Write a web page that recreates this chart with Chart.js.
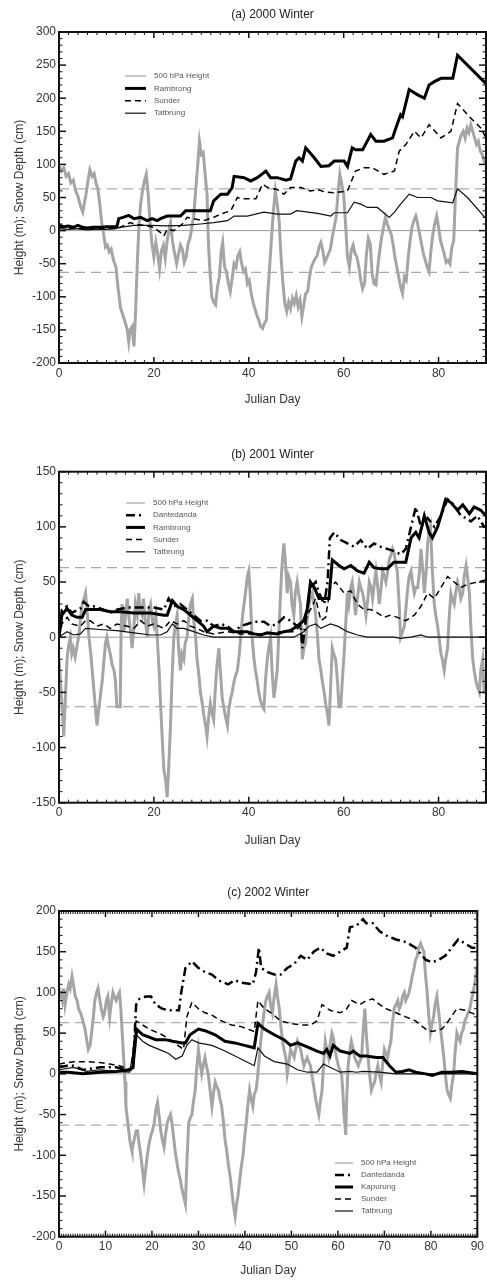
<!DOCTYPE html>
<html>
<head>
<meta charset="utf-8">
<script src="https://cdn.jsdelivr.net/npm/chart.js@4.4.1/dist/chart.umd.min.js"></script>
<style>
body { margin: 0; background: #fff; }
#contenedor { position: relative; width: 487px; height: 1281px; overflow: hidden; }
canvas { position: absolute; left: 0; }
</style>
</head>
<body>
<div id="contenedor">
    <canvas id="panel_a" width="487" height="418" style="top:0px"></canvas>
    <canvas id="panel_b" width="487" height="430" style="top:420px"></canvas>
    <canvas id="panel_c" width="487" height="431" style="top:850px"></canvas>
</div>
<script>
// ---- datos: [dia juliano, valor] ----

const dias_rango = [0, 90]
const umbrales = [63, -63]
const rango_y_a = [-200, 300]
const rango_y_b = [-150, 150]
const rango_y_c = [-200, 200]

// (a) 2000
const altura_a = [[0,98],[0.5,90],[1,95],[1.5,82],[2,86],[2.5,72],[3,76],[3.5,60],[4,52],[4.5,38],[5,28],[5.3,40],[5.7,55],[6,70],[6.5,92],[7,82],[7.4,86],[7.8,72],[8.2,62],[8.6,40],[9,12],[9.4,-5],[9.8,-25],[10.2,-22],[10.6,-32],[11,-28],[11.5,-45],[12,-55],[12.5,-90],[13,-118],[13.5,-128],[14,-140],[14.4,-150],[14.7,-168],[15,-150],[15.4,-145],[15.8,-175],[16.1,-130],[16.5,-50],[16.8,0],[17.2,40],[17.6,60],[18,75],[18.4,85],[18.8,55],[19.2,10],[19.6,-20],[20,-40],[20.4,-18],[20.8,-35],[21.2,-58],[21.6,-30],[22,-22],[22.4,-42],[22.8,-15],[23.2,2],[23.5,12],[23.9,-15],[24.3,-32],[24.8,-50],[25.2,-35],[25.6,-22],[26,-28],[26.4,-48],[26.8,-40],[27.2,-20],[27.6,-12],[28,5],[28.4,22],[28.8,60],[29.2,95],[29.6,135],[30,115],[30.4,118],[30.8,85],[31.2,55],[31.5,-20],[31.8,-60],[32.2,-100],[32.6,-108],[33,-112],[33.4,-85],[33.8,-70],[34.2,-30],[34.5,-18],[34.9,-55],[35.3,-62],[35.7,-80],[36.1,-92],[36.5,-72],[36.9,-50],[37.3,-55],[37.7,-38],[38.1,-32],[38.5,-50],[38.9,-62],[39.3,-58],[39.7,-80],[40.1,-75],[40.5,-95],[40.9,-108],[41.3,-118],[41.7,-128],[42.1,-135],[42.5,-145],[42.9,-148],[43.3,-140],[43.7,-135],[44,-95],[44.4,-55],[44.8,-10],[45.2,30],[45.6,60],[46,40],[46.4,15],[46.8,-40],[47.2,-80],[47.6,-110],[48,-122],[48.4,-108],[48.8,-118],[49.2,-102],[49.6,-110],[50,-98],[50.4,-115],[50.8,-105],[51.2,-130],[51.6,-112],[52,-95],[52.4,-92],[52.8,-70],[53.2,-55],[53.6,-48],[54,-42],[54.4,-38],[54.8,-25],[55.2,-18],[55.6,-30],[56,-48],[56.4,-42],[56.8,-35],[57.2,-28],[57.6,-10],[58,5],[58.4,20],[58.8,55],[59.2,85],[59.6,70],[60,55],[60.4,10],[60.8,-40],[61.2,-55],[61.6,-30],[62,-22],[62.4,-35],[62.8,-40],[63.2,-55],[63.6,-75],[64,-88],[64.4,-80],[64.8,-35],[65.2,-12],[65.6,-20],[66,-65],[66.4,-80],[66.8,-82],[67.2,-55],[67.6,-30],[68,-10],[68.4,5],[68.8,20],[69.2,10],[69.6,2],[70,-5],[70.4,-20],[70.8,-40],[71.2,-55],[71.6,-70],[72,-85],[72.4,-95],[72.8,-70],[73.2,-75],[73.6,-40],[74,-15],[74.4,5],[74.8,15],[75.2,22],[75.6,10],[76,-5],[76.4,-20],[76.8,-35],[77.2,-45],[77.6,-55],[78,-62],[78.4,-30],[78.8,-5],[79.2,10],[79.6,22],[80,5],[80.4,-15],[80.8,-25],[81.2,-35],[81.6,-48],[82,-45],[82.4,-50],[82.8,-25],[83.2,-15],[83.6,60],[84,125],[84.4,135],[84.8,145],[85.2,150],[85.6,140],[86,155],[86.4,148],[86.8,160],[87.2,150],[87.6,140],[88,130],[88.4,135],[88.8,120],[89.2,115],[89.6,105],[90,100]]
const rambrong_a = [[0,8],[1,6],[2,7],[3,5],[4,8],[5,5],[6,4],[7,5],[8,5],[9,5],[10,6],[11,6],[12.2,6],[12.6,18],[13.5,20],[14.7,23],[15.8,18],[17.2,20],[18.6,15],[19.6,18],[20.7,15],[21.4,18],[22.8,22],[25.6,22],[26.7,30],[28.4,30],[31.9,30],[32.6,45],[34.1,55],[35.5,55],[36.5,65],[36.9,82],[39,80],[40.4,75],[41.8,80],[43.6,90],[44.6,80],[46,80],[47.8,76],[48.8,78],[49.9,105],[50.6,110],[51.3,105],[52,125],[53.8,110],[55.2,97],[56.9,98],[58,105],[60.1,105],[60.8,97],[61.8,125],[62.5,122],[64,122],[65.7,145],[66.8,135],[68.5,135],[70.3,140],[71,155],[72,175],[72.4,172],[73.8,213],[75.6,205],[77,200],[78,220],[79.1,225],[80.5,230],[83,230],[84,265],[90,222]]
const sunder_a = [[0,5],[2,4],[4,3],[6,2],[8,3],[10,3],[12,3],[12.9,5],[15,12],[15.8,10],[17.9,8],[20,5],[21.4,-3],[22.1,-8],[22.8,2],[24.2,0],[26,10],[27,20],[28.4,18],[30.5,15],[32.6,20],[34.1,25],[36.2,30],[37.6,50],[38.6,48],[39.7,48],[41.5,48],[42.9,70],[44,65],[46,62],[47.4,55],[48.8,65],[51,65],[53,60],[54.5,62],[56.2,58],[58,57],[60.8,60],[62.5,90],[64.3,95],[66,95],[68.5,85],[70.7,90],[71.7,120],[73.1,130],[74.9,150],[76.3,140],[78,160],[80.5,140],[82.6,150],[84,192],[86.1,175],[88.9,155],[90,140]]
const tatbrung_a = [[0,3],[2,2],[4,3],[6,1],[8,2],[10,2],[12,3],[12.9,5],[15.8,8],[19.3,8],[22.8,7],[26.3,8],[29.8,10],[32.6,12],[35.5,15],[36.9,22],[39.7,22],[43.2,28],[46,25],[48.8,25],[50.1,30],[54.5,26],[57.3,22],[58,27],[60.8,27],[62.2,43],[63.6,40],[65,35],[67.1,35],[69.6,20],[70.7,28],[72,40],[73.8,55],[75.6,50],[78.4,50],[79.8,45],[83,42],[84,63],[86.1,50],[90,18]]

// (b) 2001
const altura_b = [[0,-20],[0.4,-45],[0.8,-75],[1,-90],[1.3,-60],[1.7,-20],[2,-8],[2.4,0],[2.7,-15],[3,-10],[3.4,-18],[3.8,-8],[4.2,2],[4.6,20],[4.9,30],[5.3,35],[5.6,40],[6,20],[6.3,0],[6.7,-15],[7,-30],[7.4,-50],[7.7,-65],[8,-80],[8.4,-65],[8.8,-50],[9.1,-40],[9.5,-20],[9.8,-5],[10.1,0],[10.5,-10],[10.8,-15],[11.2,-25],[11.6,-30],[11.9,-40],[12.2,-63],[12.9,-63],[13.1,10],[13.3,30],[13.7,5],[14,20],[14.4,35],[14.8,15],[15.1,5],[15.4,-10],[15.8,10],[16.1,30],[16.5,20],[16.8,40],[17.1,25],[17.5,20],[17.8,35],[18.2,15],[18.6,0],[19,25],[19.3,30],[19.7,15],[20,10],[20.4,20],[20.7,0],[21.1,-30],[21.4,-60],[21.8,-95],[22.1,-120],[22.5,-130],[22.8,-145],[23.1,-120],[23.5,-80],[23.8,-40],[24.2,0],[24.5,10],[24.9,20],[25.2,-10],[25.6,-30],[25.9,-15],[26.3,-20],[26.6,-5],[27,0],[27.4,20],[27.7,30],[28.1,35],[28.4,15],[28.8,0],[29.1,-20],[29.5,-35],[29.8,-50],[30.2,-60],[30.5,-70],[30.9,-80],[31.2,-90],[31.6,-70],[31.9,-60],[32.2,-68],[32.6,-75],[32.9,-50],[33.3,-25],[33.7,-10],[34,-30],[34.4,-55],[34.8,-65],[35.1,-72],[35.5,-80],[35.8,-65],[36.2,-55],[36.5,-50],[36.9,-40],[37.2,-35],[37.6,-30],[38,-15],[38.3,0],[38.7,20],[39,30],[39.3,40],[39.7,55],[40,60],[40.3,40],[40.7,0],[41.1,-20],[41.4,-30],[41.8,-40],[42.1,-50],[42.5,-58],[42.8,-62],[43.2,-65],[43.5,-40],[43.9,-20],[44.2,-10],[44.6,0],[44.9,-30],[45.3,-55],[45.6,-45],[46,-30],[46.3,0],[46.7,40],[47,65],[47.4,85],[47.7,70],[48.1,40],[48.4,55],[48.8,50],[49.1,30],[49.5,20],[49.8,40],[50.2,50],[50.5,40],[50.9,30],[51.3,-20],[51.6,-10],[52,-5],[52.3,15],[52.7,30],[53,35],[53.4,40],[53.8,30],[54.1,20],[54.5,0],[54.8,-20],[55.2,-30],[55.5,-40],[55.9,-50],[56.2,-60],[56.6,-70],[56.9,-80],[57.2,-50],[57.6,-10],[57.9,-15],[58.3,-20],[58.7,-40],[59,-63],[59.4,-63],[59.7,-40],[60.1,-15],[60.4,10],[60.8,40],[61.1,30],[61.5,45],[61.8,50],[62.2,35],[62.5,20],[62.9,35],[63.3,50],[63.6,45],[64,40],[64.4,30],[64.7,20],[65.1,35],[65.4,50],[65.8,45],[66.1,35],[66.5,50],[66.8,60],[67.2,45],[67.5,30],[67.9,45],[68.2,60],[68.6,55],[68.9,50],[69.3,60],[69.6,70],[70,75],[70.3,80],[70.7,75],[71,65],[71.3,60],[71.7,30],[72,0],[72.4,5],[72.8,10],[73.1,25],[73.5,45],[73.8,55],[74.2,60],[74.5,50],[74.9,40],[75.2,45],[75.6,45],[76,60],[76.3,80],[76.7,60],[77,40],[77.4,60],[77.7,85],[78,95],[78.3,100],[78.7,60],[79.1,30],[79.4,20],[79.8,10],[80.1,0],[80.5,-15],[80.8,-20],[81.2,-30],[81.5,-20],[81.9,-10],[82.2,15],[82.6,40],[82.9,35],[83.3,30],[83.6,40],[84,50],[84.3,45],[84.7,35],[85.1,40],[85.4,55],[85.8,65],[86.1,55],[86.5,40],[86.8,10],[87.2,-20],[87.5,-30],[87.9,-40],[88.2,-45],[88.6,-50],[88.9,-30],[89.3,-20],[89.6,-50],[90,-50]]
const dantedanda_b = [[0,0],[0.6,25],[1.7,28],[2.7,22],[4.5,26],[5.2,32],[6.3,28],[7.3,28],[9.4,25],[10.8,22],[12.2,25],[14.4,27],[17.2,27],[20,27],[22.1,25],[23.1,35],[24.2,28],[25.6,30],[27,25],[28.4,20],[29.8,15],[31.2,15],[32.6,10],[34.1,12],[35.5,10],[36.9,5],[38.3,10],[39.7,12],[41.1,14],[43.2,14],[44.6,10],[46,12],[47.4,18],[48.8,15],[50.2,10],[50.9,12],[51.3,-10],[52,15],[53,45],[54.1,50],[54.8,40],[55.9,30],[56.6,50],[57.1,90],[58,95],[59.4,88],[60.8,85],[62.2,82],[63.6,88],[65,80],[66.4,85],[67.8,82],[69.2,80],[70.6,78],[72,75],[73.1,80],[74.2,100],[75.2,118],[76.3,100],[77.7,108],[79.1,100],[80.5,110],[81.9,125],[83.3,120],[84.7,110],[85.8,108],[86.8,105],[88.2,110],[89.6,100],[90,100]]
const rambrong_b = [[0,0],[0.6,20],[1.7,26],[2.7,20],[3.8,18],[4.9,18],[5.6,25],[6.6,25],[8.7,25],[10.8,23],[13,23],[15.8,22],[19.3,22],[22.1,20],[22.8,20],[23.9,33],[24.9,28],[26.3,25],[27.7,20],[29.1,15],[30.5,10],[31.2,5],[32.6,10],[34.1,8],[35.5,8],[36.9,5],[38.3,5],[39.7,5],[41.1,3],[42.5,2],[43.9,4],[46,3],[47.4,5],[48.8,6],[50.2,10],[51.6,15],[52.3,25],[53,50],[53.8,45],[54.8,35],[55.9,35],[56.9,35],[57.6,70],[59,65],[60.1,62],[61.5,65],[62.9,60],[64.3,58],[65.4,68],[66.4,63],[67.8,62],[69.2,62],[70.6,68],[73.1,68],[74.2,90],[75.2,95],[75.9,90],[77,110],[78,95],[78.7,90],[79.8,100],[80.5,110],[81.5,125],[82.6,122],[84,115],[85.1,120],[86.5,112],[87.5,118],[88.9,115],[90,110]]
const sunder_b = [[0,0],[0.6,12],[1.7,18],[2.7,12],[4.5,10],[5.6,15],[6.6,15],[8,10],[9.4,12],[10.8,8],[12.2,12],[14.4,10],[15.8,8],[17.2,15],[18.6,10],[20,12],[22.1,8],[23.5,15],[24.9,12],[26.3,15],[27.7,10],[29.1,8],[30.5,5],[32.6,3],[35.5,5],[38.3,3],[41.1,3],[43.9,3],[46.7,5],[49.5,5],[50.9,10],[53,25],[54.1,35],[55.2,15],[56.2,18],[57.2,45],[58.3,50],[60.1,40],[61.5,42],[62.9,30],[64.3,25],[65.7,25],[67.1,22],[68.5,18],[69.9,20],[71.3,18],[73.1,15],[74.9,20],[76.3,28],[77.7,40],[79.1,35],[80.5,45],[81.9,55],[83.3,50],[84.7,45],[86.1,48],[88.2,50],[90,52]]
const tatbrung_b = [[0,0],[0.6,2],[1.7,5],[3.1,2],[4.5,3],[5.6,8],[8.7,7],[12.2,6],[15.8,4],[19.3,2],[21.4,2],[22.8,5],[23.9,12],[24.9,8],[26.3,8],[28.4,5],[30.5,2],[32.6,0],[36.9,0],[43.9,0],[49.5,0],[51.6,5],[52.7,10],[54.1,12],[55.2,8],[57.2,12],[58.7,10],[60.8,5],[62.9,2],[65,0],[68.5,0],[70.6,0],[72,-1],[74.2,0],[76.3,2],[77.7,0],[90,0]]

// (c) 2002
const altura_c = [[0,95],[0.3,100],[0.7,90],[1,105],[1.3,85],[1.7,100],[2.1,110],[2.4,105],[2.8,120],[3.1,110],[3.5,95],[3.9,90],[4.2,80],[4.6,75],[4.9,70],[5.3,62],[5.6,55],[6,40],[6.3,30],[6.7,35],[7,50],[7.4,70],[7.7,90],[8.1,100],[8.4,105],[8.8,90],[9.1,80],[9.5,70],[9.8,75],[10.2,90],[10.5,95],[10.9,70],[11.2,85],[11.6,100],[11.9,95],[12.3,90],[12.6,95],[13,100],[13.3,80],[13.6,50],[13.9,20],[14.2,-10],[14.4,-40],[14.8,-60],[15.2,-80],[15.5,-90],[15.7,-95],[16,-85],[16.2,-80],[16.6,-70],[16.9,-70],[17.2,-85],[17.6,-100],[17.9,-115],[18.3,-135],[18.6,-120],[19,-100],[19.4,-85],[19.8,-75],[20.1,-70],[20.5,-60],[20.8,-45],[21.2,-35],[21.5,-50],[21.9,-70],[22.2,-80],[22.6,-90],[22.9,-75],[23.3,-60],[23.6,-55],[24,-50],[24.3,-60],[24.7,-80],[25,-95],[25.4,-110],[25.7,-120],[26.1,-130],[26.4,-140],[26.8,-150],[27.2,-160],[27.5,-110],[27.9,-60],[28.2,-55],[28.6,-50],[28.9,-35],[29.3,-20],[29.6,5],[30,30],[30.3,15],[30.7,0],[31,10],[31.4,20],[31.7,10],[32.1,0],[32.5,-20],[32.9,-40],[33.2,-25],[33.6,-10],[33.9,-15],[34.3,-20],[34.6,-30],[35,-40],[35.4,-60],[35.7,-80],[36.1,-95],[36.4,-110],[36.8,-125],[37.1,-140],[37.5,-160],[37.9,-175],[38.2,-160],[38.5,-150],[38.9,-130],[39.2,-115],[39.6,-100],[39.9,-80],[40.3,-60],[40.6,-40],[41,-20],[41.3,-30],[41.7,-40],[42,-25],[42.4,-20],[42.7,-5],[43.1,20],[43.4,40],[43.8,60],[44.1,75],[44.5,90],[44.8,95],[45.2,100],[45.5,85],[45.9,75],[46.3,95],[46.7,110],[47,95],[47.4,80],[47.7,60],[48.1,40],[48.4,30],[48.8,20],[49.1,0],[49.5,15],[49.8,30],[50.2,25],[50.6,20],[50.9,30],[51.3,40],[51.6,35],[52,30],[52.3,20],[52.7,10],[53,15],[53.4,20],[53.7,15],[54.1,10],[54.5,-5],[54.8,-15],[55.2,-30],[55.5,-40],[55.9,-50],[56.2,-35],[56.6,-20],[56.9,10],[57.3,40],[57.6,30],[58,20],[58.3,35],[58.7,50],[59,45],[59.4,30],[59.7,20],[60.1,10],[60.4,5],[60.8,0],[61.1,-25],[61.3,-50],[61.7,-75],[61.9,-30],[62.2,10],[62.6,30],[62.9,40],[63.3,30],[63.6,20],[64,15],[64.4,10],[64.7,15],[65.1,20],[65.4,50],[65.8,80],[66.1,50],[66.5,20],[66.8,0],[67.2,-20],[67.5,-15],[67.9,-10],[68.2,0],[68.6,10],[68.9,0],[69.3,-10],[69.6,10],[70,30],[70.3,25],[70.7,20],[71,30],[71.4,40],[71.7,60],[72.1,80],[72.5,85],[72.9,90],[73.2,80],[73.6,85],[73.9,95],[74.3,100],[74.6,90],[75,95],[75.3,100],[75.7,110],[76,120],[76.4,130],[76.7,140],[77.1,145],[77.4,155],[77.8,160],[78.1,155],[78.5,150],[78.8,125],[79.2,100],[79.5,75],[79.9,50],[80.2,60],[80.6,70],[80.9,85],[81.3,95],[81.6,80],[82,60],[82.4,40],[82.8,20],[83.1,0],[83.5,-20],[83.8,-25],[84.2,-30],[84.5,-15],[84.9,0],[85.2,25],[85.6,50],[85.9,45],[86.3,40],[86.6,50],[87,55],[87.3,65],[87.7,70],[88,75],[88.4,80],[88.7,90],[89.1,100],[89.4,110],[89.8,125],[90,120]]
const dantedanda_c = [[0,8],[1.7,10],[3.1,10],[5.2,5],[8.8,8],[12.3,8],[14.4,5],[15.9,5],[16.6,85],[17.3,92],[18.7,95],[19.8,95],[20.8,85],[22.2,80],[23.6,78],[25.8,78],[26.3,100],[27.2,130],[28.6,138],[30,130],[31.4,125],[32.9,122],[34.3,115],[36.4,110],[37.8,115],[39.2,112],[41.7,110],[42.4,125],[43,155],[43.5,130],[44.9,125],[46.3,122],[47.7,122],[49.1,130],[50.6,135],[52,145],[53.4,140],[54.8,150],[56.2,155],[57.6,148],[59,145],[60.5,150],[61.9,155],[62.6,180],[64,182],[65.4,190],[66.1,185],[67.5,185],[69,175],[70.4,170],[72.5,165],[74.6,162],[76.7,155],[78.9,140],[80.3,137],[81.7,140],[83.1,145],[84.5,155],[85.9,165],[87.4,160],[88.8,155],[90,155]]
const kapurung_c = [[0,2],[2,2],[5.2,0],[8.8,2],[12.3,3],[15.2,5],[15.9,8],[16.7,55],[18,48],[19.4,45],[20.8,42],[22.9,42],[24.4,40],[26.5,38],[27.2,38],[28.2,48],[30,55],[31.4,53],[33.6,48],[35.7,40],[37.8,38],[39.9,35],[42,32],[42.8,62],[44.2,55],[46.3,48],[48.4,42],[49.8,35],[51.3,38],[53.4,33],[55.5,28],[56.9,25],[57.6,30],[58.3,22],[59,35],[60.5,28],[62.6,25],[63.3,28],[64.7,22],[66.1,22],[68.3,20],[69.7,20],[71.1,10],[72.5,2],[73.9,3],[75.3,5],[76.7,2],[78.9,0],[80.3,-2],[82.4,2],[84.5,2],[86.7,3],[90,0]]
const sunder_c = [[0,12],[3.1,15],[5.9,15],[8.8,14],[10.9,12],[13,10],[15.5,5],[16.6,65],[18,60],[19.4,55],[22.2,48],[24.4,40],[26.8,30],[27.5,70],[28.6,88],[30,80],[31.4,75],[32.9,72],[35,65],[37.1,60],[39.2,58],[42,52],[42.8,90],[44.2,80],[45.6,75],[47.7,65],[49.8,62],[52,60],[54.1,60],[55.5,65],[56.6,85],[58.3,78],[60.5,75],[61.9,80],[63,90],[64.7,85],[66.1,90],[67.5,92],[69,85],[70.4,80],[72.5,75],[74.6,70],[76.7,65],[78.9,55],[80.3,52],[82.4,55],[83.8,65],[85.6,80],[87.4,78],[90,72]]
const tatbrung_c = [[0,5],[3.1,8],[5.9,3],[8.8,5],[12.3,3],[15.2,2],[16.6,48],[18,40],[19.4,35],[21.5,30],[23.6,25],[25.1,18],[26.5,22],[27.5,35],[28.6,42],[30,38],[32.9,35],[35.7,28],[38.5,20],[41.3,12],[42,10],[42.8,32],[44.2,22],[46.3,15],[49.1,12],[51.3,5],[53.4,2],[55.5,2],[56.9,12],[58.3,8],[60.5,2],[62.6,3],[64,2],[65.4,3],[68.9,2],[72.5,0],[90,0]]

// ---- estilos de cada serie ----
const FUENTE = '"Liberation Sans", Arial, Helvetica, sans-serif'
const estilos = {
    altura:     { label: '500 hPa Height', color: '#a5a5a5', ancho: 3, dash: [], anchoLeyenda: 1.2, orden: 5 },
    dantedanda: { label: 'Dantedanda', color: '#000', ancho: 2.5, dash: [9, 4, 2, 4], orden: 1 },
    rambrong:   { label: 'Rambrong', color: '#000', ancho: 3, dash: [], orden: 0 },
    kapurung:   { label: 'Kapurung', color: '#000', ancho: 3, dash: [], orden: 0 },
    sunder:     { label: 'Sunder', color: '#000', ancho: 1.5, dash: [6, 4], orden: 2 },
    tatbrung:   { label: 'Tatbrung', color: '#111', ancho: 1.2, dash: [], orden: 3 }
}

document.addEventListener('DOMContentLoaded', () => {
    dibujar_panel('panel_a', {
        titulo: '(a) 2000 Winter', rangoY: rango_y_a, pasoX: 20, menorX: 2,
        tituloArriba: 7.8, tituloAbajo: 9.8, altoX: 55, tituloXAbajo: 10.8, derecha: 1,
        leyenda: { x: 125, y: 76, dy: 12.4, largo: 21 },
        series: [['altura', altura_a], ['rambrong', rambrong_a], ['sunder', sunder_a], ['tatbrung', tatbrung_a]]
    })
    dibujar_panel('panel_b', {
        titulo: '(b) 2001 Winter', rangoY: rango_y_b, pasoX: 20, menorX: 2,
        tituloArriba: 27.8, tituloAbajo: 9.5, altoX: 47.3, tituloXAbajo: 1.8, derecha: 1,
        leyenda: { x: 126, y: 83, dy: 12.2, largo: 19 },
        series: [['altura', altura_b], ['dantedanda', dantedanda_b], ['rambrong', rambrong_b], ['sunder', sunder_b], ['tatbrung', tatbrung_b]]
    })
    dibujar_panel('panel_c', {
        titulo: '(c) 2002 Winter', rangoY: rango_y_c, pasoX: 10, menorX: 0.5,
        tituloArriba: 35.8, tituloAbajo: 10.8, altoX: 44.3, tituloXAbajo: 2.8, derecha: 5,
        leyenda: { x: 335, y: 313, dy: 12, largo: 18 },
        series: [['altura', altura_c], ['dantedanda', dantedanda_c], ['kapurung', kapurung_c], ['sunder', sunder_c], ['tatbrung', tatbrung_c]]
    })
})

// marco con marcas hacia dentro (mayores y menores) en los 4 lados
const plugin_marco = {
    id: 'marco',
    afterDatasetsDraw(chart, args, opts) {
        const { ctx, chartArea: a, scales: { x, y } } = chart
        ctx.save()
        ctx.strokeStyle = '#111'

        function raya(x1, y1, x2, y2, ancho) {
            ctx.lineWidth = ancho
            ctx.beginPath()
            ctx.moveTo(x1, y1)
            ctx.lineTo(x2, y2)
            ctx.stroke()
        }

        const nx = Math.round((x.max - x.min) / opts.menorX)
        for (let i = 0; i <= nx; i++) {
            const v = x.min + i * opts.menorX
            const px = x.getPixelForValue(v)
            const mayor = Math.abs(v / opts.mayorX - Math.round(v / opts.mayorX)) < 1e-6
            const largo = mayor ? 6 : 3
            raya(px, a.bottom, px, a.bottom - largo, mayor ? 1.5 : 1)
            raya(px, a.top, px, a.top + largo, mayor ? 1.5 : 1)
        }
        const ny = Math.round((y.max - y.min) / 10)
        for (let i = 0; i <= ny; i++) {
            const v = y.min + i * 10
            const py = y.getPixelForValue(v)
            const mayor = v % 50 === 0
            const largo = mayor ? 7 : 3.5
            raya(a.left, py, a.left + largo, py, mayor ? 1.5 : 1)
            raya(a.right, py, a.right - largo, py, mayor ? 1.5 : 1)
        }

        ctx.lineWidth = 2
        ctx.strokeRect(a.left, a.top, a.right - a.left, a.bottom - a.top)
        ctx.restore()
    }
}

// leyenda dentro del area del grafico
const plugin_leyenda = {
    id: 'leyenda',
    afterDraw(chart, args, opts) {
        const ctx = chart.ctx
        let yy = opts.y
        chart.data.datasets.forEach(ds => {
            if (!ds.enLeyenda) return
            ctx.save()
            ctx.strokeStyle = ds.borderColor
            ctx.lineWidth = ds.anchoLeyenda || ds.borderWidth
            ctx.setLineDash(ds.borderDash || [])
            ctx.beginPath()
            ctx.moveTo(opts.x, yy)
            ctx.lineTo(opts.x + opts.largo, yy)
            ctx.stroke()
            ctx.setLineDash([])
            ctx.fillStyle = '#555'
            ctx.font = '8px ' + FUENTE
            ctx.textBaseline = 'middle'
            ctx.fillText(ds.label, opts.x + opts.largo + 8, yy)
            ctx.restore()
            yy += opts.dy
        })
    }
}

function dibujar_panel(id, conf) {
    const datasets = []

    conf.series.forEach(([clave, datos]) => {
        const e = estilos[clave]
        datasets.push({
            label: e.label,
            data: datos,
            borderColor: e.color,
            borderWidth: e.ancho,
            borderDash: e.dash,
            anchoLeyenda: e.anchoLeyenda,
            enLeyenda: true,
            order: e.orden,
            pointRadius: 0,
            tension: 0,
            fill: false
        })
    })

    // linea de cero y umbrales discontinuos
    datasets.push({
        label: 'cero', data: [[dias_rango[0], 0], [dias_rango[1], 0]],
        borderColor: '#9a9a9a', borderWidth: 1, pointRadius: 0, order: 10, enLeyenda: false
    })
    umbrales.forEach(u => {
        datasets.push({
            label: 'umbral', data: [[dias_rango[0], u], [dias_rango[1], u]],
            borderColor: '#ababab', borderWidth: 1.3, borderDash: [10, 6], pointRadius: 0, order: 10, enLeyenda: false
        })
    })

    const fuenteEjes = { family: FUENTE, size: 12 }

    new Chart(document.getElementById(id), {
        type: 'line',
        data: { datasets: datasets },
        plugins: [plugin_marco, plugin_leyenda],
        options: {
            responsive: false,
            animation: false,
            events: [],
            layout: { autoPadding: false, padding: { left: 0, right: conf.derecha, top: 0, bottom: 0 } },
            plugins: {
                legend: { display: false },
                tooltip: { enabled: false },
                title: {
                    display: true,
                    fullSize: false,
                    text: conf.titulo,
                    color: '#222',
                    font: { family: FUENTE, size: 12, weight: 'normal', lineHeight: 1.2 },
                    padding: { top: conf.tituloArriba, bottom: conf.tituloAbajo }
                },
                marco: { menorX: conf.menorX, mayorX: conf.pasoX },
                leyenda: conf.leyenda
            },
            scales: {
                x: {
                    type: 'linear',
                    min: dias_rango[0],
                    max: dias_rango[1],
                    grid: { display: false, drawTicks: false },
                    border: { display: false },
                    ticks: { stepSize: conf.pasoX, padding: 3, color: '#333', font: fuenteEjes, maxRotation: 0, autoSkip: false },
                    afterBuildTicks: s => { s.ticks = s.ticks.filter(t => t.value % conf.pasoX === 0) },
                    title: { display: true, text: 'Julian Day', color: '#333', font: { family: FUENTE, size: 12, lineHeight: 1.2 }, padding: { top: 0, bottom: conf.tituloXAbajo } },
                    afterFit: s => { s.height = conf.altoX }
                },
                y: {
                    type: 'linear',
                    min: conf.rangoY[0],
                    max: conf.rangoY[1],
                    grid: { display: false, drawTicks: false },
                    border: { display: false },
                    ticks: { stepSize: 50, padding: 3, color: '#333', font: fuenteEjes, autoSkip: false },
                    title: { display: true, text: 'Height (m); Snow Depth (cm)', color: '#333', font: { family: FUENTE, size: 12, lineHeight: 1.2 }, padding: { top: 12.8, bottom: 0 } },
                    afterFit: s => { s.width = 59 }
                }
            }
        }
    })
}
</script>
</body>
</html>
